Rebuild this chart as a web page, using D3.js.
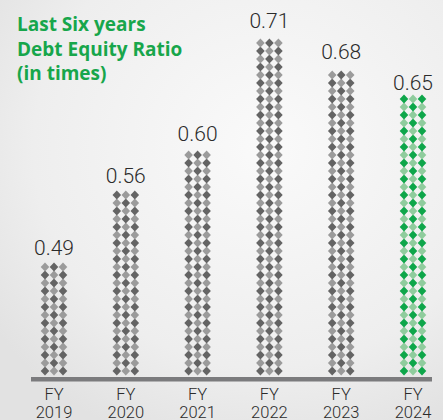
<!DOCTYPE html>
<html>
<head>
<meta charset="utf-8">
<script src="https://cdn.jsdelivr.net/npm/d3@7"></script>
<style>
  body { margin: 0; background: #efefef; }
  svg { display: block; }
</style>
</head>
<body>
<script>
// chart data
var years = ['2019', '2020', '2021', '2022', '2023', '2024'];
var ratios = [0.49, 0.56, 0.60, 0.71, 0.68, 0.65];
var titleLines = ['Last Six years', 'Debt Equity Ratio', '(in times)'];

var width = 443,
	height = 420;

var svg = d3.select('body')
	.append('svg')
	.attr('width', width)
	.attr('height', height);

// soft background
var defs = svg.append('defs');
var bg = defs.append('radialGradient')
	.attr('id', 'bg')
	.attr('cx', '60%').attr('cy', '35%').attr('r', '75%');
bg.append('stop').attr('offset', '0%').attr('stop-color', '#fafafa');
bg.append('stop').attr('offset', '70%').attr('stop-color', '#eeeeee');
bg.append('stop').attr('offset', '100%').attr('stop-color', '#e2e2e2');
svg.append('rect')
	.attr('width', width)
	.attr('height', height)
	.attr('fill', 'url(#bg)');

var baseY = 375;

// bar centres
var x = d3.scalePoint()
	.domain(years)
	.range([54, 413]);

// bars do not start at zero in the original
var y = d3.scaleLinear()
	.domain([0.382, 0.71])
	.range([baseY, 37]);

// title
svg.append('text')
	.attr('x', 17)
	.attr('y', 31)
	.attr('fill', '#17a64b')
	.style('font-family', '"Open Sans", sans-serif')
	.style('font-weight', 700)
	.style('font-size', '19px')
	.selectAll('tspan')
	.data(titleLines)
	.enter().append('tspan')
	.attr('x', 17)
	.attr('dy', function(d, i) { return i ? 24.5 : 0; })
	.text(function(d) { return d; });

// diamond bars
var dw = 9, dh = 8;
var bars = svg.selectAll('g.bar')
	.data(years)
	.enter().append('g')
	.attr('class', 'bar');

bars.each(function(yr, i) {
	var g = d3.select(this);
	var last = i === years.length - 1;
	var dark = last ? '#0ea64a' : '#646464',
		light = last ? '#8fcc9d' : '#9b9b9b';
	var top = y(ratios[i]);
	var rows = Math.round((baseY - top) / dh);
	var cells = [];
	for (var r = 0; r < rows; r++) {
		for (var c = 0; c < 3; c++) cells.push({ r: r, c: c });
	}
	var x0 = x(yr) - dw;
	g.selectAll('path')
		.data(cells)
		.enter().append('path')
		.attr('d', function(d) {
			var cx = x0 + d.c * dw,
				cy = baseY - 4 - d.r * dh;
			return 'M' + cx + ',' + (cy - 4.4) + 'L' + (cx + 4.3) + ',' + cy +
				'L' + cx + ',' + (cy + 4.4) + 'L' + (cx - 4.3) + ',' + cy + 'Z';
		})
		.attr('fill', function(d) { return (d.r + d.c) % 2 ? light : dark; });

	g.append('text')
		.attr('x', x(yr))
		.attr('y', top - 9)
		.attr('text-anchor', 'middle')
		.attr('fill', '#2b2b2b')
		.style('font-family', 'Roboto, sans-serif')
		.style('font-weight', 300)
		.style('font-size', '21px')
		.text(d3.format('.2f')(ratios[i]));
});

// baseline
svg.append('rect')
	.attr('x', 31)
	.attr('y', baseY + 2)
	.attr('width', 401)
	.attr('height', 4.5)
	.attr('fill', '#7b7b7d');

// category labels, two lines each
function catLine(yPos, fn) {
	svg.selectAll(null)
		.data(years)
		.enter().append('text')
		.attr('x', function(d) { return x(d); })
		.attr('y', yPos)
		.attr('text-anchor', 'middle')
		.attr('fill', '#2b2b2b')
		.style('font-family', 'Roboto, sans-serif')
		.style('font-weight', 300)
		.style('font-size', '16.5px')
		.text(fn);
}
catLine(399.5, function() { return 'FY'; });
catLine(417.5, function(d) { return d; });
</script>
</body>
</html>
